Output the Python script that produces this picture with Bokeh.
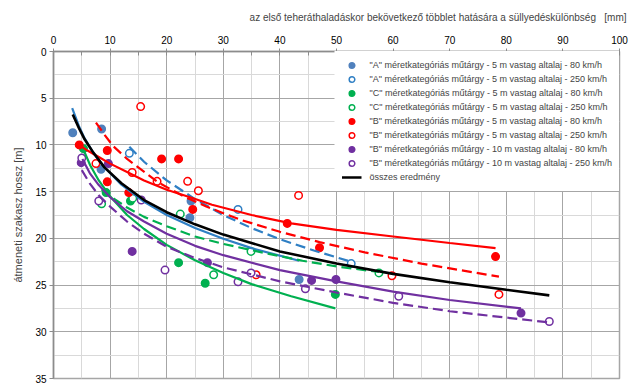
from bokeh.plotting import figure
from bokeh.models import Range1d, Legend, LegendItem, FixedTicker, Title
from bokeh.embed import file_html
from bokeh.resources import INLINE

FONT = "Liberation Sans"

title_text = "az első teheráthaladáskor bekövetkező többlet hatására a süllyedéskülönbség\u00a0\u00a0\u00a0[mm]"
y_label_text = "átmeneti szakasz hossz [m]"

x_ticks = [0, 10, 20, 30, 40, 50, 60, 70, 80, 90, 100]
y_ticks = [0, 5, 10, 15, 20, 25, 30, 35]

labels = [
    '"A" méretkategóriás műtárgy - 5 m vastag altalaj - 80 km/h',
    '"A" méretkategóriás műtárgy - 5 m vastag altalaj - 250 km/h',
    '"C" méretkategóriás műtárgy - 5 m vastag altalaj - 80 km/h',
    '"C" méretkategóriás műtárgy - 5 m vastag altalaj - 250 km/h',
    '"B" méretkategóriás műtárgy - 5 m vastag altalaj - 80 km/h',
    '"B" méretkategóriás műtárgy - 5 m vastag altalaj - 250 km/h',
    '"B" méretkategóriás műtárgy - 10 m vastag altalaj - 80 km/h',
    '"B" méretkategóriás műtárgy - 10 m vastag altalaj - 250 km/h',
    'összes eredmény',
]

# measured points
a80_x = [3.4, 8.5, 8.4, 24.3, 24.1, 43.4]
a80_y = [8.7, 8.3, 12.6, 16.0, 17.8, 24.4]
a250_x = [13.4, 32.6, 52.6]
a250_y = [10.9, 16.9, 22.7]
c80_x = [5.3, 9.3, 13.6, 22.1, 26.8, 49.8]
c80_y = [10.4, 15.1, 16.0, 22.6, 24.8, 26.0]
c250_x = [8.5, 14.0, 22.4, 28.3, 34.9, 57.5]
c250_y = [16.3, 15.7, 17.4, 23.9, 21.4, 23.7]
b80_x = [4.55, 9.5, 9.5, 13.3, 19.1, 22.1, 24.6, 41.3, 47.0, 78.1]
b80_y = [10.0, 10.6, 13.95, 15.1, 11.5, 11.5, 16.9, 18.4, 21.0, 21.95]
b250_x = [7.5, 13.9, 15.4, 18.3, 23.7, 25.6, 35.8, 43.3, 59.8, 78.7]
b250_y = [12.0, 12.95, 5.9, 13.9, 13.9, 14.9, 23.9, 15.4, 24.0, 26.0]
b10_80_x = [4.9, 9.7, 13.9, 27.2, 45.6, 49.9, 82.6]
b10_80_y = [11.9, 12.0, 21.4, 22.6, 24.5, 24.4, 28.0]
b10_250_x = [5.0, 8.0, 15.5, 19.7, 32.6, 34.9, 44.5, 61.0, 87.6]
b10_250_y = [11.4, 16.0, 15.9, 23.4, 24.65, 23.7, 25.4, 26.2, 28.9]

# trend lines
all_tx = [3.4, 4.5, 5.5, 7, 9, 12, 16, 20, 25, 30, 40, 50, 60, 70, 80, 87.6]
all_ty = [6.75, 8.2, 9.4, 10.8, 12.4, 14.1, 15.9, 17.2, 18.5, 19.6, 21.4, 22.7, 23.8, 24.7, 25.5, 26.1]
a80_tx = [3.3, 4.5, 5.5, 7, 9, 12, 16, 20, 25, 30, 35, 43.4]
a80_ty = [6.05, 8.0, 9.3, 10.8, 12.4, 14.25, 16.1, 17.5, 18.9, 20.05, 21.05, 22.4]
a250_tx = [13.4, 16, 20, 25, 30, 35, 40, 46, 52.6]
a250_ty = [10.2, 11.8, 13.8, 15.8, 17.5, 18.9, 20.1, 21.3, 22.5]
c80_tx = [5.3, 6.5, 8, 10, 13, 16, 20, 25, 30, 35, 42, 49.8]
c80_ty = [10.5, 12.2, 13.8, 15.5, 17.5, 19.0, 20.7, 22.35, 23.7, 24.9, 26.2, 27.5]
c250_tx = [8.5, 10, 13, 16, 20, 25, 30, 36, 44, 50, 57.5]
c250_ty = [14.75, 15.5, 16.7, 17.7, 18.7, 19.8, 20.6, 21.4, 22.4, 23.0, 23.6]
b80_tx = [4.55, 6, 8, 10, 13, 16, 20, 24.4, 28, 35, 42, 50, 60, 70, 78.1]
b80_ty = [10.0, 10.6, 11.3, 12.0, 12.9, 13.8, 14.8, 15.65, 16.4, 17.5, 18.4, 19.1, 19.8, 20.5, 21.05]
b250_tx = [7.5, 9, 10.5, 13, 15.1, 18.6, 23, 27, 33, 40, 47, 55, 65, 78.7]
b250_ty = [7.6, 8.9, 10.1, 11.5, 12.45, 14.05, 15.5, 16.6, 18.0, 19.3, 20.4, 21.5, 22.7, 24.1]
b10_80_tx = [5.1, 6.5, 8, 10, 13, 16, 20, 25, 30, 40, 50, 60, 70, 82.6]
b10_80_ty = [11.5, 13.1, 14.3, 15.6, 17.1, 18.2, 19.5, 20.8, 21.8, 23.4, 24.6, 25.7, 26.6, 27.5]
b10_250_tx = [5.0, 6.5, 8, 10, 13, 16, 20, 25, 30, 40, 50, 60, 70, 87.6]
b10_250_ty = [12.7, 14.2, 15.4, 16.6, 18.2, 19.5, 20.9, 22.1, 23.1, 24.6, 25.8, 26.9, 27.8, 29.0]

BLUE_F = "#5081bd"
BLUE_O = "#2f7fc4"
GREEN = "#00b050"
RED = "#ff0000"
PURPLE = "#7030a0"

p = figure(width=642, height=386, x_range=Range1d(0, 100), y_range=Range1d(35, 0),
           x_axis_location="above", output_backend="svg", toolbar_location=None,
           min_border_left=49, min_border_right=23, min_border_top=50, min_border_bottom=8)
p.background_fill_color = "white"
p.outline_line_color = "#a6a6a6"
p.outline_line_width = 1.5

p.title.text = title_text
p.title.align = "right"
p.title.offset = -7
p.title.standoff = 19
p.title.text_font = FONT
p.title.text_font_size = "10px"
p.title.text_font_style = "normal"

ylab = Title(text=y_label_text, align="center", offset=41, standoff=18,
             text_font=FONT, text_font_size="11px", text_font_style="normal")
p.add_layout(ylab, "left")

for ax in (p.xaxis[0], p.yaxis[0]):
    ax.axis_line_color = "#8c8c8c"
    ax.axis_line_width = 1.5
    ax.major_tick_line_color = "#8c8c8c"
    ax.minor_tick_line_color = "#8c8c8c"
    ax.major_label_text_font = FONT
    ax.major_label_text_font_size = "10px"
    ax.major_label_text_color = "#000000"

p.xaxis.ticker = FixedTicker(ticks=x_ticks, minor_ticks=[t + 5 for t in x_ticks[:-1]])
p.yaxis.ticker = FixedTicker(ticks=y_ticks, minor_ticks=[t + 2.5 for t in y_ticks[:-1]])
p.xaxis.major_tick_out = 3
p.xaxis.major_tick_in = 4
p.xaxis.minor_tick_in = 4
p.xaxis.minor_tick_out = 0
p.xaxis.major_label_standoff = 5
p.yaxis.major_tick_out = 4
p.yaxis.major_tick_in = 0
p.yaxis.minor_tick_in = 0
p.yaxis.minor_tick_out = 0
p.yaxis.major_label_standoff = 3

for g in (p.xgrid[0], p.ygrid[0]):
    g.grid_line_color = "#a6a6a6"
    g.grid_line_width = 1
    g.minor_grid_line_color = "#d9d9d9"
    g.minor_grid_line_width = 1

def pts(x, y, color, filled):
    return p.scatter(x, y, marker="circle", size=7.5,
                     fill_color=color if filled else "white",
                     line_color=color, line_width=1.5)

r_a80 = pts(a80_x, a80_y, BLUE_F, True)
r_a250 = pts(a250_x, a250_y, BLUE_O, False)
r_c80 = pts(c80_x, c80_y, GREEN, True)
r_c250 = pts(c250_x, c250_y, GREEN, False)
r_b80 = pts(b80_x, b80_y, RED, True)
r_b250 = pts(b250_x, b250_y, RED, False)
r_b1080 = pts(b10_80_x, b10_80_y, PURPLE, True)
r_b10250 = pts(b10_250_x, b10_250_y, PURPLE, False)

DASH = "10 5"
p.line(a80_tx, a80_ty, line_color=BLUE_O, line_width=2.2)
p.line(a250_tx, a250_ty, line_color=BLUE_O, line_width=2.2, line_dash=DASH)
p.line(c80_tx, c80_ty, line_color=GREEN, line_width=2.2)
p.line(c250_tx, c250_ty, line_color=GREEN, line_width=2.2, line_dash=DASH)
p.line(b80_tx, b80_ty, line_color=RED, line_width=2.2)
p.line(b250_tx, b250_ty, line_color=RED, line_width=2.2, line_dash=DASH)
p.line(b10_80_tx, b10_80_ty, line_color=PURPLE, line_width=2.2)
p.line(b10_250_tx, b10_250_ty, line_color=PURPLE, line_width=2.2, line_dash=DASH)
r_all = p.line(all_tx, all_ty, line_color="black", line_width=2.6)

renderers = [r_a80, r_a250, r_c80, r_c250, r_b80, r_b250, r_b1080, r_b10250, r_all]
legend = Legend(items=[LegendItem(label=l, renderers=[r]) for l, r in zip(labels, renderers)],
                location="top_right", margin=0, padding=7, spacing=0,
                glyph_width=20, glyph_height=14, label_height=14, label_standoff=8,
                label_text_font=FONT, label_text_font_size="9px",
                background_fill_color="white", background_fill_alpha=1.0,
                border_line_alpha=0)
p.add_layout(legend)

open("out.html", "w").write(file_html(p, INLINE))
